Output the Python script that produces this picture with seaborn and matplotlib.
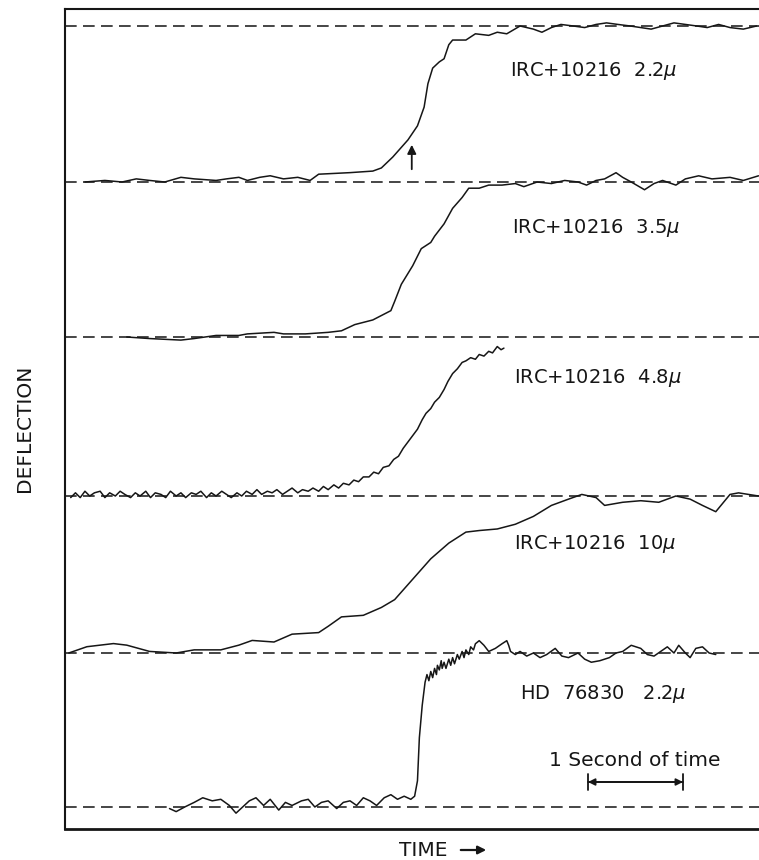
import numpy as np
import pandas as pd
import matplotlib
matplotlib.use("Agg")
import matplotlib.pyplot as plt
import seaborn as sns

# ---------------- data (time in seconds, deflection as fraction of full step) -------------
# dashed reference levels on the common deflection scale (top to bottom)
levels = [8.03, 6.47, 4.92, 3.33, 1.76, 0.22]

labels = ["IRC+10216  2.2$\\mu$", "IRC+10216  3.5$\\mu$", "IRC+10216  4.8$\\mu$",
          "IRC+10216  10$\\mu$", "HD  76830   2.2$\\mu$"]

t1 = [0.21, 0.42, 0.60, 0.75, 0.89, 1.05, 1.22, 1.36, 1.59, 1.70, 1.83, 1.92, 2.05, 2.16, 2.30,
      2.45, 2.58, 2.67, 3.00, 3.24, 3.33, 3.45, 3.61, 3.71, 3.78, 3.82, 3.87, 3.94, 3.99, 4.04,
      4.08, 4.22, 4.32, 4.46, 4.55, 4.65, 4.79, 4.93, 5.02, 5.12, 5.22, 5.35, 5.47, 5.59, 5.70,
      5.82, 5.95, 6.06, 6.17, 6.29, 6.41, 6.53, 6.65, 6.76, 6.88, 7.00, 7.14, 7.28]
v1 = [0.00, 0.01, 0.00, 0.02, 0.01, 0.00, 0.03, 0.02, 0.01, 0.02, 0.03, 0.01, 0.03, 0.04, 0.02,
      0.03, 0.01, 0.05, 0.06, 0.07, 0.09, 0.16, 0.27, 0.36, 0.48, 0.63, 0.73, 0.77, 0.79, 0.88,
      0.91, 0.91, 0.95, 0.94, 0.96, 0.95, 1.00, 0.98, 0.96, 0.99, 1.01, 1.00, 0.99, 1.01, 1.02,
      1.01, 1.00, 0.99, 0.98, 1.00, 1.02, 1.01, 1.00, 0.99, 1.01, 0.99, 0.98, 1.00]

t2 = [0.65, 0.89, 1.22, 1.36, 1.59, 1.83, 1.92, 2.20, 2.30, 2.53, 2.77, 2.91, 3.05, 3.24, 3.43,
      3.47, 3.54, 3.66, 3.75, 3.85, 3.89, 3.99, 4.08, 4.18, 4.25, 4.29, 4.36, 4.46, 4.60, 4.74,
      4.83, 4.97, 5.12, 5.26, 5.40, 5.49, 5.59, 5.68, 5.80, 5.87, 5.96, 6.10, 6.20, 6.29, 6.43,
      6.53, 6.67, 6.81, 7.00, 7.14, 7.30]
v2 = [0.00, -0.01, -0.02, -0.01, 0.01, 0.01, 0.02, 0.03, 0.02, 0.02, 0.03, 0.04, 0.08, 0.11, 0.17,
      0.23, 0.34, 0.46, 0.57, 0.61, 0.65, 0.73, 0.83, 0.90, 0.96, 0.96, 0.96, 0.98, 0.98, 0.99,
      0.97, 1.00, 0.99, 1.01, 1.00, 0.98, 1.01, 1.02, 1.06, 1.03, 1.00, 0.95, 0.99, 1.01, 0.98,
      1.02, 1.04, 1.02, 1.03, 1.01, 1.04]

t3 = [0.06, 0.11, 0.16, 0.21, 0.26, 0.31, 0.37, 0.42, 0.47, 0.53, 0.58, 0.63, 0.69, 0.74, 0.79,
      0.85, 0.90, 0.95, 1.01, 1.06, 1.11, 1.17, 1.22, 1.27, 1.33, 1.38, 1.43, 1.49, 1.54, 1.59,
      1.65, 1.70, 1.75, 1.81, 1.86, 1.91, 1.97, 2.02, 2.07, 2.13, 2.18, 2.23, 2.29, 2.34, 2.39,
      2.45, 2.50, 2.56, 2.61, 2.67, 2.72, 2.77, 2.83, 2.88, 2.93, 2.99, 3.04, 3.09, 3.14, 3.20,
      3.25, 3.30, 3.35, 3.41, 3.46, 3.51, 3.56, 3.61, 3.66, 3.71, 3.76, 3.80, 3.85, 3.89, 3.94,
      3.99, 4.03, 4.08, 4.13, 4.18, 4.22, 4.27, 4.32, 4.36, 4.41, 4.46, 4.50, 4.55, 4.59, 4.62]
v3 = [-0.01, 0.02, -0.01, 0.03, 0.00, 0.02, 0.03, -0.01, 0.02, 0.00, 0.03, 0.01, -0.01, 0.02, 0.00,
      0.03, -0.01, 0.02, 0.01, -0.01, 0.03, 0.00, 0.02, -0.01, 0.02, 0.01, 0.03, -0.01, 0.02, 0.00,
      0.03, 0.01, -0.01, 0.02, 0.00, 0.03, 0.01, 0.04, 0.01, 0.03, 0.02, 0.04, 0.01, 0.03, 0.05,
      0.02, 0.04, 0.03, 0.05, 0.03, 0.06, 0.04, 0.07, 0.05, 0.08, 0.07, 0.10, 0.09, 0.12, 0.12,
      0.15, 0.14, 0.18, 0.19, 0.23, 0.25, 0.30, 0.34, 0.38, 0.42, 0.48, 0.52, 0.55, 0.59, 0.62,
      0.67, 0.72, 0.77, 0.80, 0.84, 0.85, 0.87, 0.86, 0.89, 0.88, 0.91, 0.90, 0.94, 0.92, 0.93]

t4 = [0.04, 0.23, 0.51, 0.65, 0.89, 1.17, 1.36, 1.64, 1.83, 1.97, 2.20, 2.39, 2.67, 2.77, 2.91,
      3.14, 3.33, 3.47, 3.66, 3.85, 4.04, 4.22, 4.36, 4.55, 4.74, 4.93, 5.12, 5.30, 5.44, 5.59,
      5.68, 5.87, 6.06, 6.25, 6.43, 6.58, 6.71, 6.85, 7.00, 7.09, 7.30]
v4 = [0.00, 0.04, 0.06, 0.05, 0.01, 0.00, 0.02, 0.02, 0.05, 0.08, 0.07, 0.12, 0.13, 0.17, 0.23,
      0.24, 0.29, 0.34, 0.47, 0.60, 0.70, 0.77, 0.78, 0.79, 0.82, 0.87, 0.94, 0.98, 1.01, 0.99,
      0.94, 0.96, 0.97, 0.96, 1.00, 0.98, 0.94, 0.90, 1.01, 1.02, 1.00]

t5 = [1.10, 1.17, 1.26, 1.36, 1.45, 1.55, 1.64, 1.73, 1.80, 1.87, 1.94, 2.01, 2.09, 2.16, 2.25,
      2.32, 2.39, 2.49, 2.56, 2.63, 2.70, 2.77, 2.86, 2.93, 3.00, 3.07, 3.14, 3.21, 3.28, 3.36,
      3.43, 3.50, 3.57, 3.64, 3.68, 3.71, 3.73, 3.76, 3.79, 3.81, 3.83, 3.85, 3.87, 3.89, 3.91,
      3.92, 3.94, 3.96, 3.97, 3.99, 4.01, 4.04, 4.06, 4.08, 4.10, 4.13, 4.15, 4.18, 4.20, 4.22,
      4.25, 4.27, 4.30, 4.32, 4.34, 4.36, 4.41, 4.46, 4.53, 4.60, 4.65, 4.67, 4.69, 4.74, 4.79,
      4.86, 4.93, 5.00, 5.07, 5.16, 5.23, 5.30, 5.40, 5.47, 5.54, 5.63, 5.73, 5.80, 5.87, 5.96,
      6.06, 6.13, 6.20, 6.27, 6.34, 6.41, 6.46, 6.53, 6.58, 6.64, 6.71, 6.78, 6.85]
v5 = [-0.01, -0.03, 0.00, 0.03, 0.06, 0.04, 0.05, 0.01, -0.04, 0.00, 0.04, 0.06, 0.01, 0.05, -0.02,
      0.03, 0.01, 0.04, 0.05, 0.00, 0.03, 0.04, -0.01, 0.03, 0.04, 0.01, 0.06, 0.04, 0.01, 0.06,
      0.08, 0.05, 0.07, 0.05, 0.07, 0.17, 0.45, 0.66, 0.81, 0.86, 0.82, 0.88, 0.84, 0.90, 0.86,
      0.92, 0.89, 0.95, 0.90, 0.94, 0.90, 0.96, 0.92, 0.97, 0.93, 0.99, 0.96, 1.01, 0.97, 1.02,
      0.99, 1.04, 1.02, 1.06, 1.07, 1.08, 1.05, 1.01, 1.03, 1.06, 1.08, 1.05, 1.01, 0.99, 1.01,
      0.98, 1.00, 0.97, 0.99, 1.03, 0.98, 0.97, 1.00, 0.96, 0.94, 0.95, 0.97, 1.00, 1.01, 1.05,
      1.03, 0.99, 0.98, 1.01, 1.04, 1.00, 1.05, 1.00, 0.97, 1.03, 1.04, 1.00, 0.99]

traces_t = [t1, t2, t3, t4, t5]
traces_v = [v1, v2, v3, v4, v5]

# occultation marker (trace 1) and time scale bar (1 second)
marker_t = 3.65
scale_start, scale_len = 5.505, 1.0

# ---------------- figure -------------
sns.set_theme(style="white")
plt.rcParams['font.family'] = ['DejaVu Sans']
plt.rcParams['mathtext.fontset'] = 'dejavusans'
ink = '#161616'

fig = plt.figure(figsize=(7.59, 8.60), dpi=100)
ax = fig.add_axes([65 / 759, 31 / 860, 694 / 759, 820 / 860])

frames = []
for i, (t, v) in enumerate(zip(traces_t, traces_v)):
    lo, hi = levels[i + 1], levels[i]
    frames.append(pd.DataFrame({'time': t,
                                'deflection': lo + np.asarray(v) * (hi - lo),
                                'trace': labels[i]}))
df = pd.concat(frames, ignore_index=True)

sns.lineplot(data=df, x='time', y='deflection', units='trace', estimator=None,
             color=ink, lw=1.1, sort=False, ax=ax, legend=False)

for lev in levels:
    ax.axhline(lev, color='#262626', lw=1.2, dashes=(7, 3.8), zorder=1)

ax.set_xlim(0, 7.305)
ax.set_ylim(0, 8.20)
ax.set_xticks([])
ax.set_yticks([])
ax.set_xlabel('')
ax.set_ylabel('')
for side in ['left', 'top', 'bottom']:
    ax.spines[side].set_color(ink)
ax.spines['left'].set_linewidth(1.5)
ax.spines['top'].set_linewidth(1.5)
ax.spines['bottom'].set_linewidth(2.0)
ax.spines['right'].set_visible(False)

# trace labels (left edge, vertical centre)
label_pos = [(4.68, 7.58), (4.70, 6.01), (4.73, 4.51), (4.73, 2.85), (4.79, 1.35)]
for (x, y), txt in zip(label_pos, labels):
    ax.text(x, y, txt, ha='left', va='center', fontsize=14, color=ink)

# arrow marking trace 1
ax.annotate('', xy=(marker_t, 6.87), xytext=(marker_t, 6.57),
            arrowprops=dict(arrowstyle='-|>', lw=1.3, color=ink, mutation_scale=13))

# 1 second scale bar
ax.text(scale_start + scale_len / 2 - 0.01, 0.69, '1 Second of time', ha='center', va='center',
        fontsize=14.5, color=ink)
ax.annotate('', xy=(scale_start, 0.47), xytext=(scale_start + scale_len, 0.47),
            arrowprops=dict(arrowstyle='<|-|>', lw=1.3, color=ink, mutation_scale=10,
                            shrinkA=0, shrinkB=0))
ax.annotate('', xy=(scale_start, 0.47), xytext=(scale_start + scale_len, 0.47),
            arrowprops=dict(arrowstyle='|-|', lw=1.3, color=ink, mutation_scale=6,
                            shrinkA=0, shrinkB=0))

# axis titles
fig.text(25 / 759, 1 - 428 / 860, 'DEFLECTION', rotation=90, ha='center', va='center',
         fontsize=14.5, color=ink)
fig.text(423 / 759, 1 - 850 / 860, 'TIME', ha='center', va='center', fontsize=14.5, color=ink)
fig.patches.append(matplotlib.patches.FancyArrowPatch(
    (458 / 759, 1 - 850 / 860), (489 / 759, 1 - 850 / 860), transform=fig.transFigure,
    arrowstyle='-|>', mutation_scale=12, lw=1.6, color=ink))

fig.savefig('out.png', dpi=100)
